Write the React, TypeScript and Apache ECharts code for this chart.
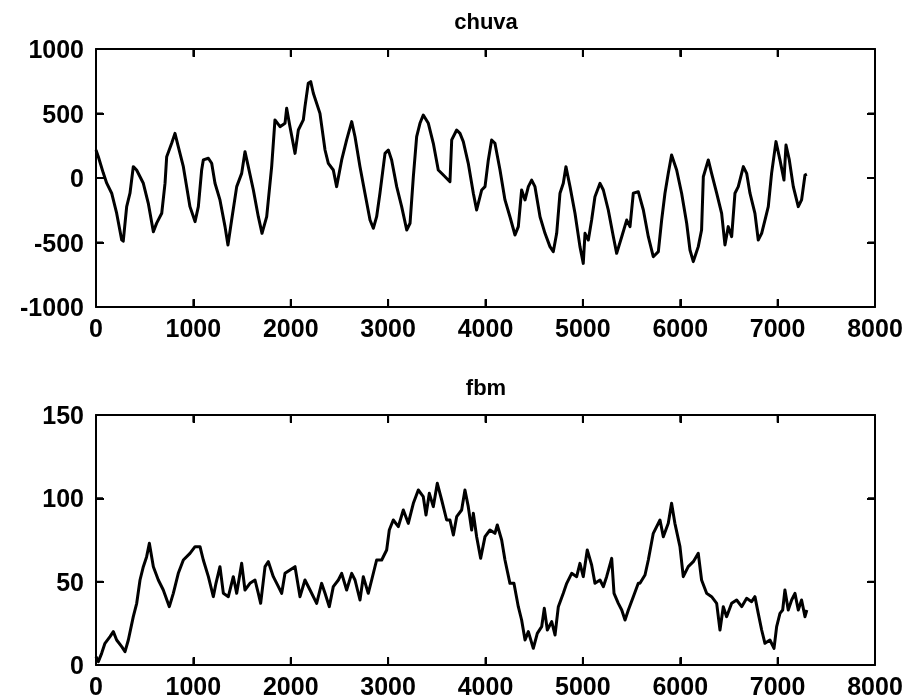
import React, { useEffect, useRef } from "react";
import * as echarts from "echarts";

// chuva (top panel)
const chuvaX = [0, 24, 75, 110, 161, 212, 264, 280, 315, 349, 383, 417, 486, 537, 589, 623, 675, 709, 726, 777, 811, 845, 897, 931, 965, 1017, 1051, 1085, 1102, 1154, 1188, 1222, 1273, 1325, 1355, 1393, 1445, 1496, 1530, 1564, 1616, 1667, 1705, 1753, 1804, 1838, 1890, 1941, 1958, 1992, 2044, 2078, 2129, 2146, 2180, 2205, 2232, 2300, 2352, 2386, 2437, 2471, 2523, 2574, 2626, 2660, 2711, 2762, 2814, 2848, 2882, 2916, 2968, 3002, 3036, 3088, 3139, 3191, 3225, 3259, 3293, 3327, 3361, 3413, 3464, 3515, 3567, 3635, 3653, 3704, 3738, 3772, 3823, 3875, 3909, 3961, 3995, 4029, 4063, 4097, 4149, 4200, 4251, 4303, 4337, 4371, 4406, 4440, 4474, 4508, 4560, 4611, 4662, 4696, 4731, 4765, 4799, 4826, 4868, 4919, 4970, 5004, 5022, 5056, 5090, 5124, 5176, 5210, 5261, 5313, 5347, 5399, 5450, 5484, 5518, 5569, 5621, 5672, 5723, 5775, 5809, 5843, 5877, 5911, 5963, 6014, 6066, 6100, 6134, 6185, 6219, 6237, 6288, 6322, 6374, 6425, 6459, 6493, 6528, 6562, 6596, 6648, 6682, 6716, 6767, 6801, 6836, 6870, 6904, 6938, 6983, 7024, 7065, 7086, 7120, 7161, 7212, 7246, 7281, 7300];
const chuvaY = [217, 165, 38, -40, -118, -273, -480, -490, -222, -118, 88, 62, -41, -196, -416, -350, -273, -40, 165, 269, 346, 243, 88, -67, -222, -338, -222, 62, 140, 153, 114, -41, -170, -377, -519, -326, -67, 36, 204, 88, -93, -300, -429, -300, 88, 450, 398, 424, 540, 398, 191, 372, 450, 553, 734, 747, 657, 501, 217, 114, 62, -67, 140, 295, 437, 320, 88, -118, -326, -390, -300, -118, 191, 217, 140, -67, -222, -403, -351, 10, 320, 424, 488, 424, 269, 62, 23, -29, 295, 372, 346, 282, 114, -118, -248, -93, -67, 140, 295, 269, 62, -170, -300, -442, -377, -93, -170, -67, -16, -67, -300, -429, -532, -571, -429, -118, -41, 88, -67, -274, -532, -662, -429, -481, -326, -145, -41, -93, -248, -455, -584, -455, -326, -377, -118, -106, -248, -455, -610, -571, -326, -118, 36, 178, 62, -118, -351, -558, -648, -532, -403, 10, 140, 36, -118, -274, -519, -377, -455, -118, -67, 88, 36, -118, -274, -481, -429, -326, -222, 36, 282, 140, -16, 256, 140, -67, -222, -170, 23, 30];

// fbm (bottom panel)
const fbmX = [0, 24, 58, 92, 144, 178, 212, 264, 298, 332, 383, 418, 452, 486, 520, 548, 589, 640, 691, 753, 794, 845, 897, 965, 1017, 1068, 1102, 1154, 1205, 1232, 1273, 1308, 1359, 1410, 1445, 1496, 1530, 1581, 1633, 1667, 1691, 1736, 1770, 1821, 1873, 1907, 1941, 1992, 2044, 2095, 2146, 2198, 2266, 2317, 2352, 2396, 2437, 2489, 2523, 2574, 2626, 2660, 2711, 2745, 2796, 2831, 2882, 2934, 2985, 3012, 3053, 3105, 3156, 3207, 3259, 3310, 3361, 3389, 3423, 3464, 3505, 3550, 3601, 3635, 3670, 3704, 3755, 3789, 3823, 3858, 3875, 3909, 3950, 3995, 4046, 4097, 4121, 4166, 4200, 4251, 4292, 4337, 4371, 4406, 4440, 4491, 4532, 4577, 4604, 4635, 4680, 4714, 4748, 4799, 4834, 4885, 4936, 4970, 5004, 5045, 5090, 5124, 5176, 5210, 5244, 5296, 5320, 5364, 5399, 5433, 5467, 5518, 5569, 5586, 5638, 5672, 5723, 5792, 5826, 5877, 5911, 5945, 5997, 6031, 6082, 6134, 6185, 6219, 6271, 6322, 6374, 6408, 6442, 6476, 6528, 6579, 6631, 6682, 6733, 6767, 6801, 6836, 6870, 6921, 6963, 6990, 7024, 7052, 7075, 7109, 7144, 7178, 7212, 7246, 7281, 7300];
const fbmY = [5, 2, 7, 13, 17, 20, 15, 11, 8, 15, 29, 37, 51, 59, 65, 73, 59, 51, 45, 35, 43, 55, 63, 67, 71, 71, 63, 53, 41, 49, 59, 43, 41, 53, 43, 61, 45, 49, 51, 43, 37, 59, 62, 53, 47, 43, 55, 57, 59, 41, 51, 45, 37, 49, 43, 35, 47, 51, 55, 45, 55, 51, 39, 53, 43, 51, 63, 63, 69, 81, 87, 83, 93, 85, 97, 105, 101, 90, 103, 95, 109, 99, 87, 87, 78, 89, 93, 105, 95, 81, 91, 77, 64, 77, 81, 79, 84, 75, 63, 49, 49, 35, 27, 15, 20, 10, 19, 23, 34, 21, 26, 18, 35, 43, 49, 55, 53, 61, 53, 69, 60, 49, 51, 47, 53, 64, 43, 37, 33, 27, 33, 41, 49, 49, 54, 63, 79, 87, 77, 85, 97, 85, 71, 53, 59, 62, 67, 51, 43, 41, 37, 21, 35, 29, 37, 39, 35, 40, 38, 41, 31, 21, 13, 15, 10, 23, 31, 33, 45, 33, 39, 43, 33, 39, 29, 33];

const xTicks = [0, 1000, 2000, 3000, 4000, 5000, 6000, 7000, 8000];
const chuvaTicks = [-1000, -500, 0, 500, 1000];
const fbmTicks = [0, 50, 100, 150];
const titles = ["chuva", "fbm"];

const FONT = "Liberation Sans, Arial, Helvetica, sans-serif";

export default function App() {
  const ref = useRef<HTMLDivElement>(null);
  useEffect(() => {
    if (!ref.current) return;
    const chart = echarts.init(ref.current, undefined, { renderer: "svg" });
    const topRect = { left: 96, top: 49, width: 779, height: 258 };
    const botRect = { left: 96, top: 415, width: 779, height: 250 };
    const grids = [{ ...topRect }, { ...topRect }, { ...botRect }, { ...botRect }];
    const mkLine = () => ({ show: true, onZero: false, lineStyle: { color: "#000", width: 2 } });
    const mkTick = () => ({ show: true, inside: true, length: 8, lineStyle: { color: "#000", width: 2 } });
    const mkLabel = (show: boolean, margin: number) => ({
      show,
      margin,
      color: "#000",
      fontSize: 25,
      fontWeight: "bold",
      fontFamily: FONT,
      formatter: (v: number) => String(v),
    });
    const mkX = (gi: number, pos: "bottom" | "top", show: boolean) => ({
      type: "value",
      gridIndex: gi,
      position: pos,
      min: xTicks[0],
      max: xTicks[xTicks.length - 1],
      interval: xTicks[1] - xTicks[0],
      axisLine: mkLine(),
      axisTick: mkTick(),
      splitLine: { show: false },
      axisLabel: mkLabel(show, 8),
    });
    const mkY = (gi: number, pos: "left" | "right", show: boolean, ticks: number[]) => ({
      type: "value",
      gridIndex: gi,
      position: pos,
      min: ticks[0],
      max: ticks[ticks.length - 1],
      interval: ticks[1] - ticks[0],
      axisLine: mkLine(),
      axisTick: mkTick(),
      splitLine: { show: false },
      axisLabel: mkLabel(show, 12),
    });
    // inward tick marks drawn as short line segments through the axes' scales
    const tickMarks = (axisIdx: number, yTicks: number[]) => {
      const yMin = yTicks[0];
      const yMax = yTicks[yTicks.length - 1];
      const xMin = xTicks[0];
      const xMax = xTicks[xTicks.length - 1];
      const xSpan = xMax - xMin;
      const ySpan = yMax - yMin;
      const dy = ySpan * 0.03;
      const dx = xSpan * 0.009;
      const segs: (number | null)[][] = [];
      xTicks.forEach((x) => {
        segs.push([x, yMin], [x, yMin + dy], [null, null] as any);
        segs.push([x, yMax], [x, yMax - dy], [null, null] as any);
      });
      yTicks.forEach((y) => {
        segs.push([xMin, y], [xMin + dx, y], [null, null] as any);
        segs.push([xMax, y], [xMax - dx, y], [null, null] as any);
      });
      return {
        type: "line",
        xAxisIndex: axisIdx,
        yAxisIndex: axisIdx,
        data: segs.map((p) => (p[0] === null ? "-" : p)),
        showSymbol: false,
        connectNulls: false,
        silent: true,
        clip: false,
        z: 5,
        lineStyle: { color: "#000", width: 2 },
      };
    };
    chart.setOption({
      animation: false,
      title: [
        {
          text: titles[0],
          left: 486,
          top: 10,
          padding: 0,
          textAlign: "center",
          textStyle: { color: "#000", fontSize: 22, fontWeight: "bold", fontFamily: FONT },
        },
        {
          text: titles[1],
          left: 486,
          top: 376,
          padding: 0,
          textAlign: "center",
          textStyle: { color: "#000", fontSize: 22, fontWeight: "bold", fontFamily: FONT },
        },
      ],
      grid: grids,
      xAxis: [mkX(0, "bottom", true), mkX(1, "top", false), mkX(2, "bottom", true), mkX(3, "top", false)],
      yAxis: [
        mkY(0, "left", true, chuvaTicks),
        mkY(1, "right", false, chuvaTicks),
        mkY(2, "left", true, fbmTicks),
        mkY(3, "right", false, fbmTicks),
      ],
      series: [
        {
          type: "line",
          xAxisIndex: 0,
          yAxisIndex: 0,
          data: chuvaX.map((x, i) => [x, chuvaY[i]]),
          showSymbol: false,
          lineStyle: { color: "#000", width: 3, join: "round" },
        },
        {
          type: "line",
          xAxisIndex: 2,
          yAxisIndex: 2,
          data: fbmX.map((x, i) => [x, fbmY[i]]),
          showSymbol: false,
          lineStyle: { color: "#000", width: 3, join: "round" },
        },
        tickMarks(0, chuvaTicks),
        tickMarks(2, fbmTicks),
      ],
    });
    return () => chart.dispose();
  }, []);
  return <div ref={ref} style={{ position: "fixed", left: 0, top: 0, width: 911, height: 699 }} />;
}
